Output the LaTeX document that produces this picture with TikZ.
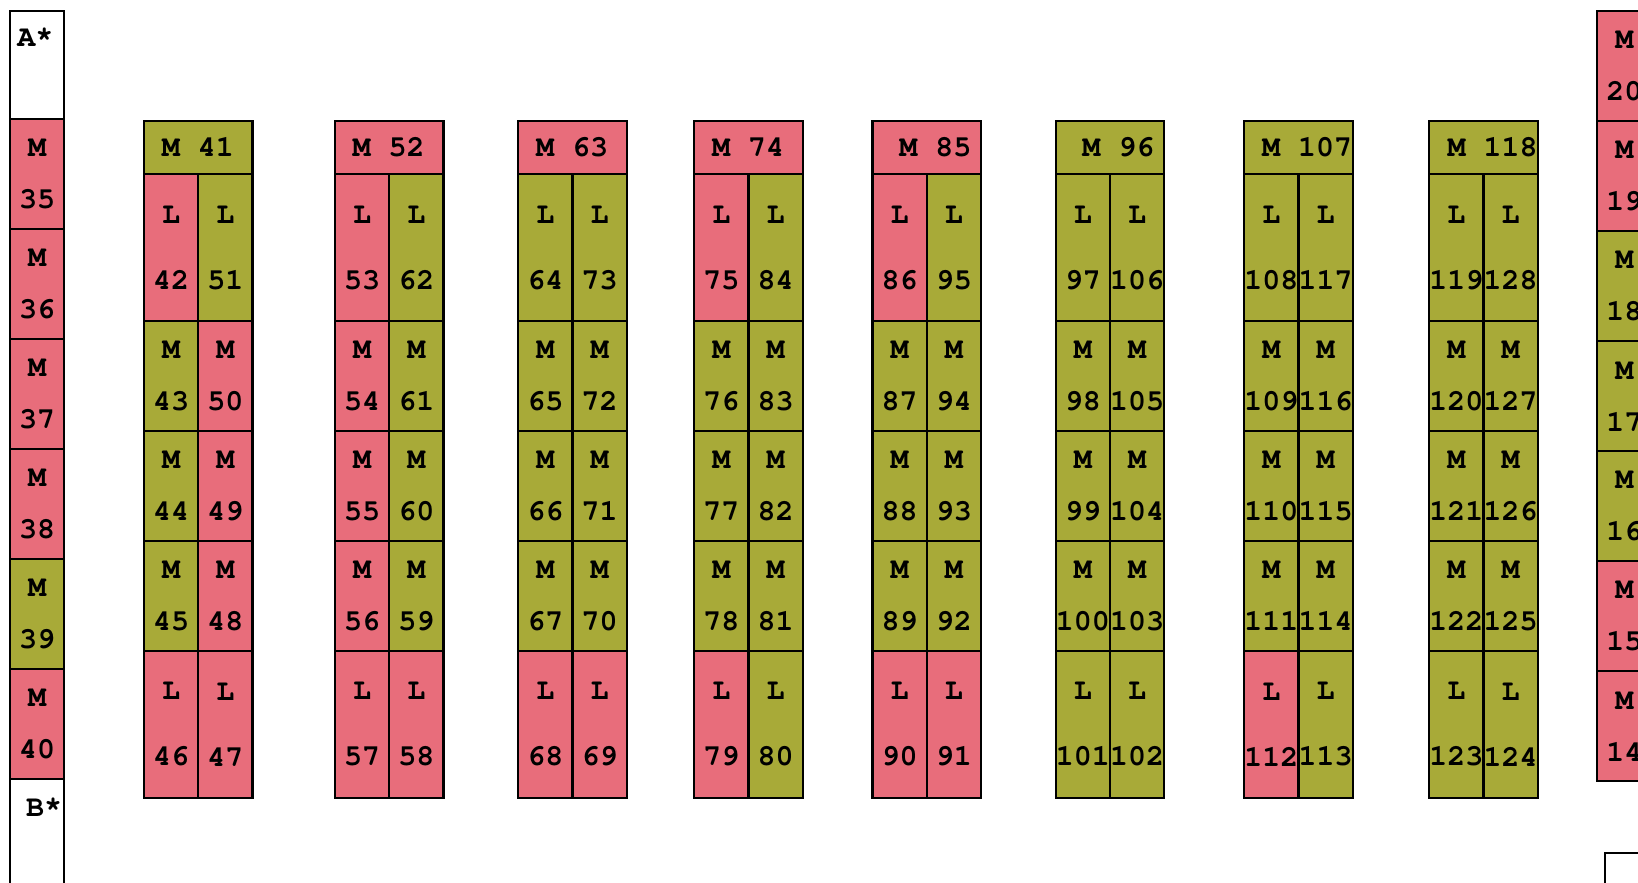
\documentclass[tikz,border=0pt]{standalone}
\usepackage{fontspec}
\setmonofont{TeX Gyre Cursor}
\definecolor{cpink}{RGB}{232,109,123}
\definecolor{colive}{RGB}{168,170,56}

\begin{document}
\begin{tikzpicture}[
  x=0.5pt, y=-0.5pt,
  font=\ttfamily\bfseries\fontsize{15pt}{18pt}\selectfont,
  cell/.style={draw, line width=1.1pt, outer sep=0pt, anchor=north west, inner sep=0pt, align=center},
  side/.style={cell, minimum width=27pt, minimum height=55pt},
  head/.style={cell, minimum width=54.25pt, minimum height=26.65pt},
  lcell/.style={cell, minimum width=27.125pt, minimum height=73.65pt},
  mcell/.style={cell, minimum width=27.125pt, minimum height=54.9pt},
  endbox/.style={cell, fill=white, minimum width=27pt, minimum height=60pt},
  tag/.style={anchor=west, inner sep=0pt},
  pk/.style={fill=cpink},
  ol/.style={fill=colive}
  ]

  \useasboundingbox (0,0) rectangle (1638,883);
  \clip (0,0) rectangle (1638,883);

  % left column
  \node[endbox, minimum height=54pt] (astar) at (10,11.3) {};
  \node[tag, anchor=center] (alabel) at ([xshift=-0.8pt, yshift=-12.85pt]astar.north) {A*};
  \node[side, pk] (c35) at (10,119.3) {M\\[8pt]35};
  \node[side, pk] (c36) at (c35.south west) {M\\[8pt]36};
  \node[side, pk] (c37) at (c36.south west) {M\\[8pt]37};
  \node[side, pk] (c38) at (c37.south west) {M\\[8pt]38};
  \node[side, ol] (c39) at (c38.south west) {M\\[8pt]39};
  \node[side, pk] (c40) at (c39.south west) {M\\[8pt]40};
  \node[endbox] (bstar) at (c40.south west) {};
  \node[tag, anchor=center] (blabel) at ([xshift=3.6pt, yshift=-14pt]bstar.north) {B*};

  % right column (cut by the edge)
  \node[side, pk] (c20) at (1597.3,11.3) {M\\[8pt]20};
  \node[side, pk] (c19) at (c20.south west) {M\\[8pt]19};
  \node[side, ol] (c18) at (c19.south west) {M\\[8pt]18};
  \node[side, ol] (c17) at (c18.south west) {M\\[8pt]17};
  \node[side, ol] (c16) at (c17.south west) {M\\[8pt]16};
  \node[side, pk] (c15) at (c16.south west) {M\\[8pt]15};
  \node[side, pk] (c14) at (c15.south west) {M\\[8pt]14};
  \node[endbox, minimum width=40pt] (corner) at (1605,852.7) {};

  % group 41
  \node[head, ol] (h41) at (144,120.7) {};
  \node[tag] (t41) at ([xshift=8.7pt]h41.west) {M 41};
  \node[lcell, pk] (c42) at (h41.south west) {L\\[15pt]42};
  \node[lcell, ol] (c51) at (h41.south) {L\\[15pt]51};
  \node[mcell, ol] (c43) at (c42.south west) {M\\[8pt]43};
  \node[mcell, pk] (c50) at (c51.south west) {M\\[8pt]50};
  \node[mcell, ol] (c44) at (c43.south west) {M\\[8pt]44};
  \node[mcell, pk] (c49) at (c50.south west) {M\\[8pt]49};
  \node[mcell, ol] (c45) at (c44.south west) {M\\[8pt]45};
  \node[mcell, pk] (c48) at (c49.south west) {M\\[8pt]48};
  \node[lcell, pk] (c46) at (c45.south west) {L\\[15pt]46};
  \node[lcell, pk] (c47) at (c48.south west) {L\\[15pt]47};

  % group 52
  \node[head, pk] (h52) at (335,120.7) {};
  \node[tag] (t52) at ([xshift=8.65pt]h52.west) {M 52};
  \node[lcell, pk] (c53) at (h52.south west) {L\\[15pt]53};
  \node[lcell, ol] (c62) at (h52.south) {L\\[15pt]62};
  \node[mcell, pk] (c54) at (c53.south west) {M\\[8pt]54};
  \node[mcell, ol] (c61) at (c62.south west) {M\\[8pt]61};
  \node[mcell, pk] (c55) at (c54.south west) {M\\[8pt]55};
  \node[mcell, ol] (c60) at (c61.south west) {M\\[8pt]60};
  \node[mcell, pk] (c56) at (c55.south west) {M\\[8pt]56};
  \node[mcell, ol] (c59) at (c60.south west) {M\\[8pt]59};
  \node[lcell, pk] (c57) at (c56.south west) {L\\[15pt]57};
  \node[lcell, pk] (c58) at (c59.south west) {L\\[15pt]58};

  % group 63
  \node[head, pk] (h63) at (518.3,120.7) {};
  \node[tag] (t63) at ([xshift=8.7pt]h63.west) {M 63};
  \node[lcell, ol] (c64) at (h63.south west) {L\\[15pt]64};
  \node[lcell, ol] (c73) at (h63.south) {L\\[15pt]73};
  \node[mcell, ol] (c65) at (c64.south west) {M\\[8pt]65};
  \node[mcell, ol] (c72) at (c73.south west) {M\\[8pt]72};
  \node[mcell, ol] (c66) at (c65.south west) {M\\[8pt]66};
  \node[mcell, ol] (c71) at (c72.south west) {M\\[8pt]71};
  \node[mcell, ol] (c67) at (c66.south west) {M\\[8pt]67};
  \node[mcell, ol] (c70) at (c71.south west) {M\\[8pt]70};
  \node[lcell, pk] (c68) at (c67.south west) {L\\[15pt]68};
  \node[lcell, pk] (c69) at (c70.south west) {L\\[15pt]69};

  % group 74
  \node[head, pk] (h74) at (694.3,120.7) {};
  \node[tag] (t74) at ([xshift=8.7pt]h74.west) {M 74};
  \node[lcell, pk] (c75) at (h74.south west) {L\\[15pt]75};
  \node[lcell, ol] (c84) at (h74.south) {L\\[15pt]84};
  \node[mcell, ol] (c76) at (c75.south west) {M\\[8pt]76};
  \node[mcell, ol] (c83) at (c84.south west) {M\\[8pt]83};
  \node[mcell, ol] (c77) at (c76.south west) {M\\[8pt]77};
  \node[mcell, ol] (c82) at (c83.south west) {M\\[8pt]82};
  \node[mcell, ol] (c78) at (c77.south west) {M\\[8pt]78};
  \node[mcell, ol] (c81) at (c82.south west) {M\\[8pt]81};
  \node[lcell, pk] (c79) at (c78.south west) {L\\[15pt]79};
  \node[lcell, ol] (c80) at (c81.south west) {L\\[15pt]80};

  % group 85
  \node[head, pk] (h85) at (872.5,120.7) {};
  \node[tag] (t85) at ([xshift=13.2pt]h85.west) {M 85};
  \node[lcell, pk] (c86) at (h85.south west) {L\\[15pt]86};
  \node[lcell, ol] (c95) at (h85.south) {L\\[15pt]95};
  \node[mcell, ol] (c87) at (c86.south west) {M\\[8pt]87};
  \node[mcell, ol] (c94) at (c95.south west) {M\\[8pt]94};
  \node[mcell, ol] (c88) at (c87.south west) {M\\[8pt]88};
  \node[mcell, ol] (c93) at (c94.south west) {M\\[8pt]93};
  \node[mcell, ol] (c89) at (c88.south west) {M\\[8pt]89};
  \node[mcell, ol] (c92) at (c93.south west) {M\\[8pt]92};
  \node[lcell, pk] (c90) at (c89.south west) {L\\[15pt]90};
  \node[lcell, pk] (c91) at (c92.south west) {L\\[15pt]91};

  % group 96
  \node[head, ol] (h96) at (1055.7,120.7) {};
  \node[tag] (t96) at ([xshift=13.1pt]h96.west) {M 96};
  \node[lcell, ol] (c97) at (h96.south west) {L\\[15pt]97};
  \node[lcell, ol] (c106) at (h96.south) {L\\[15pt]106};
  \node[mcell, ol] (c98) at (c97.south west) {M\\[8pt]98};
  \node[mcell, ol] (c105) at (c106.south west) {M\\[8pt]105};
  \node[mcell, ol] (c99) at (c98.south west) {M\\[8pt]99};
  \node[mcell, ol] (c104) at (c105.south west) {M\\[8pt]104};
  \node[mcell, ol] (c100) at (c99.south west) {M\\[8pt]100};
  \node[mcell, ol] (c103) at (c104.south west) {M\\[8pt]103};
  \node[lcell, ol] (c101) at (c100.south west) {L\\[15pt]101};
  \node[lcell, ol] (c102) at (c103.south west) {L\\[15pt]102};

  % group 107
  \node[head, ol] (h107) at (1244.3,120.7) {};
  \node[tag] (t107) at ([xshift=8.7pt]h107.west) {M 107};
  \node[lcell, ol] (c108) at (h107.south west) {L\\[15pt]108};
  \node[lcell, ol] (c117) at (h107.south) {L\\[15pt]117};
  \node[mcell, ol] (c109) at (c108.south west) {M\\[8pt]109};
  \node[mcell, ol] (c116) at (c117.south west) {M\\[8pt]116};
  \node[mcell, ol] (c110) at (c109.south west) {M\\[8pt]110};
  \node[mcell, ol] (c115) at (c116.south west) {M\\[8pt]115};
  \node[mcell, ol] (c111) at (c110.south west) {M\\[8pt]111};
  \node[mcell, ol] (c114) at (c115.south west) {M\\[8pt]114};
  \node[lcell, pk] (c112) at (c111.south west) {L\\[15pt]112};
  \node[lcell, ol] (c113) at (c114.south west) {L\\[15pt]113};

  % group 118
  \node[head, ol] (h118) at (1429.3,120.7) {};
  \node[tag] (t118) at ([xshift=9pt]h118.west) {M 118};
  \node[lcell, ol] (c119) at (h118.south west) {L\\[15pt]119};
  \node[lcell, ol] (c128) at (h118.south) {L\\[15pt]128};
  \node[mcell, ol] (c120) at (c119.south west) {M\\[8pt]120};
  \node[mcell, ol] (c127) at (c128.south west) {M\\[8pt]127};
  \node[mcell, ol] (c121) at (c120.south west) {M\\[8pt]121};
  \node[mcell, ol] (c126) at (c127.south west) {M\\[8pt]126};
  \node[mcell, ol] (c122) at (c121.south west) {M\\[8pt]122};
  \node[mcell, ol] (c125) at (c126.south west) {M\\[8pt]125};
  \node[lcell, ol] (c123) at (c122.south west) {L\\[15pt]123};
  \node[lcell, ol] (c124) at (c125.south west) {L\\[15pt]124};

\end{tikzpicture}
\end{document}
